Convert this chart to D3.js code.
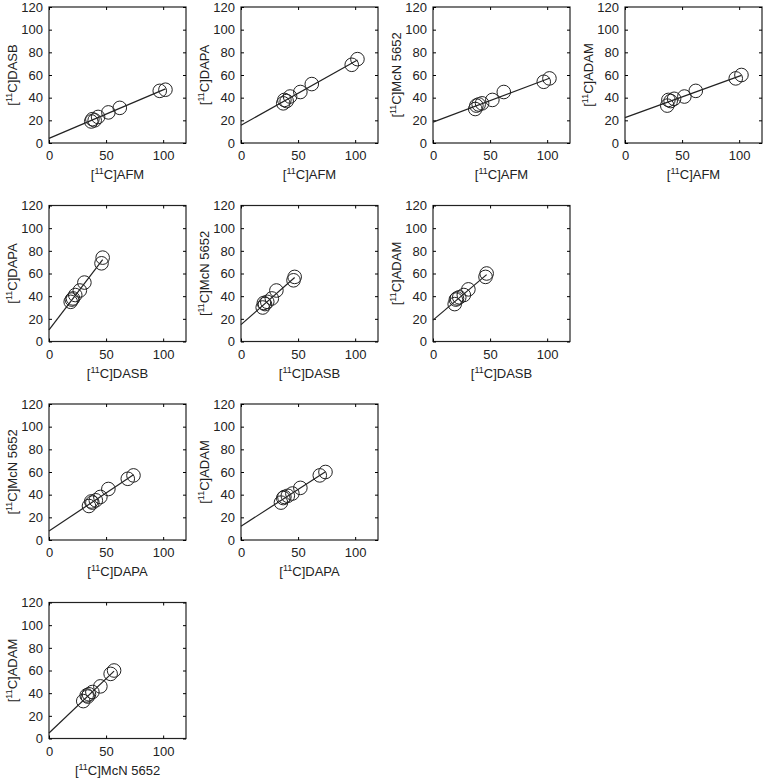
<!DOCTYPE html>
<html>
<head>
<meta charset="utf-8">
<script src="https://cdn.jsdelivr.net/npm/d3@7"></script>
<style>
  body { margin: 0; background: #fff; }
  svg text { font-family: "Liberation Sans", Arial, sans-serif; fill: #222; }
</style>
</head>
<body>
<div id="chart"></div>
<script>
// regional binding values per tracer (same region order in every array)
const AFM  = [37, 38, 40, 43, 52, 62, 97, 102];
const DASB = [19, 21, 20, 23, 27, 31, 46, 47];
const DAPA = [35, 38, 37, 41, 45, 52, 69, 74];
const McN  = [30, 33, 34, 35, 38, 45, 54, 57];
const ADAM = [33, 38, 37, 39, 41, 46, 57, 60];

const tracers = { AFM: AFM, DASB: DASB, DAPA: DAPA, "McN 5652": McN, ADAM: ADAM };
const order = ["AFM", "DASB", "DAPA", "McN 5652", "ADAM"];

const xTicks = [0, 50, 100];
const yTicks = [0, 20, 40, 60, 80, 100, 120];

const W = 763, H = 781;
const left0 = 49, top0 = 7, colStep = 192, rowStep = 198.5;
const pw = 137, ph = 136;

const svg = d3.select("#chart").append("svg")
    .attr("width", W)
    .attr("height", H);

// x on row r, y on column: lower triangle
const panels = [];
for (let i = 0; i < order.length - 1; i++) {
    for (let j = i + 1; j < order.length; j++) {
        panels.push({ xName: order[i], yName: order[j], row: i, col: j - i - 1 });
    }
}

function fit(xs, ys) {
    const mx = d3.mean(xs), my = d3.mean(ys);
    let sxy = 0, sxx = 0;
    xs.forEach((x, k) => { sxy += (x - mx) * (ys[k] - my); sxx += (x - mx) * (x - mx); });
    const b = sxy / sxx;
    return { slope: b, intercept: my - b * mx };
}

function tracerLabel(sel, name) {
    sel.append("tspan").text("[");
    sel.append("tspan").attr("font-size", 9).attr("dy", -5).text("11");
    sel.append("tspan").attr("dy", 5).text("C]" + name);
}

panels.forEach(p => {
    const g = svg.append("g")
        .attr("transform", `translate(${left0 + p.col * colStep},${top0 + p.row * rowStep})`);

    const x = d3.scaleLinear().domain([0, 120]).range([0, pw]);
    const y = d3.scaleLinear().domain([0, 120]).range([ph, 0]);

    const xs = tracers[p.xName], ys = tracers[p.yName];

    // box
    g.append("rect")
        .attr("width", pw).attr("height", ph)
        .attr("fill", "none").attr("stroke", "#222").attr("stroke-width", 1.2);

    // axes with inward ticks
    g.append("g").attr("transform", `translate(0,${ph})`)
        .call(d3.axisBottom(x).tickValues(xTicks).tickSize(-3).tickPadding(8))
        .call(a => a.select(".domain").remove())
        .call(a => a.selectAll("text").attr("font-size", 13).attr("font-family", null));
    g.append("g")
        .call(d3.axisLeft(y).tickValues(yTicks).tickSize(-3).tickPadding(6))
        .call(a => a.select(".domain").remove())
        .call(a => a.selectAll("text").attr("font-size", 13).attr("font-family", null));
    g.append("g")
        .call(d3.axisTop(x).tickValues(xTicks).tickSize(-3).tickFormat(""))
        .call(a => a.select(".domain").remove());
    g.append("g").attr("transform", `translate(${pw},0)`)
        .call(d3.axisRight(y).tickValues(yTicks).tickSize(-3).tickFormat(""))
        .call(a => a.select(".domain").remove());

    // regression line
    const f = fit(xs, ys);
    const xmax = d3.max(xs);
    g.append("line")
        .attr("x1", x(0)).attr("y1", y(f.intercept))
        .attr("x2", x(xmax)).attr("y2", y(f.intercept + f.slope * xmax))
        .attr("stroke", "#222").attr("stroke-width", 1.2);

    // points
    g.selectAll("circle")
        .data(xs.map((v, k) => [v, ys[k]]))
        .join("circle")
        .attr("cx", d => x(d[0]))
        .attr("cy", d => y(d[1]))
        .attr("r", 6.8)
        .attr("fill", "none")
        .attr("stroke", "#222")
        .attr("stroke-width", 1);

    // labels
    g.append("text")
        .attr("x", pw / 2).attr("y", ph + 36)
        .attr("text-anchor", "middle")
        .attr("font-size", 13)
        .call(tracerLabel, p.xName);
    g.append("text")
        .attr("transform", `translate(-32,${ph / 2}) rotate(-90)`)
        .attr("text-anchor", "middle")
        .attr("font-size", 13)
        .call(tracerLabel, p.yName);
});
</script>
</body>
</html>
